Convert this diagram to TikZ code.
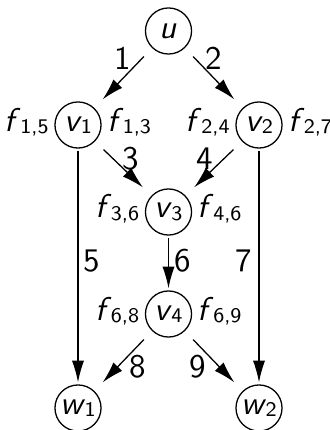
\documentclass[tikz,border=0pt]{standalone}
\usetikzlibrary{arrows.meta}
% sans oblique letter, optionally with a small upright sans subscript
\newcommand{\sv}[1]{\textsf{\textit{#1}}}
\newcommand{\svs}[2]{\textsf{\textit{#1}}\kern-0.3pt\raisebox{-0.7pt}{\fontsize{6.5}{7.5}\selectfont\sffamily #2}}
\begin{document}
\begin{tikzpicture}[x=0.3125pt, y=-0.3125pt,
  font=\fontsize{10.3}{12.5}\selectfont\sffamily,
  vtx/.style={rectangle, minimum size=15.6pt, inner sep=0pt,
    path picture={\draw (path picture bounding box.center) circle[radius=7.2pt];}},
  flowl/.style={anchor=base east, inner sep=1pt},
  flowr/.style={anchor=base west, inner sep=1pt},
  arc/.style={-{Latex[length=6.8pt,width=3.8pt]}},
  elabel/.style={midway, inner sep=0pt}]
  \useasboundingbox (0,0) rectangle (329,430);

  % vertices
  \node[vtx] (u)  at (168.5, 31)  {\sv{u}};
  \node[vtx] (v1) at (78, 125)    {\svs{v}{1}};
  \node[vtx] (v2) at (259, 125)   {\svs{v}{2}};
  \node[vtx] (v3) at (168.5, 212) {\svs{v}{3}};
  \node[vtx] (v4) at (168.5, 314) {\svs{v}{4}};
  \node[vtx] (w1) at (78, 408)    {\svs{w}{1}};
  \node[vtx] (w2) at (259, 408)   {\svs{w}{2}};

  % flow variables beside the vertices
  \node[flowl] (f15) at (v1.base west) {\svs{f}{1,5}};
  \node[flowr] (f13) at (v1.base east) {\svs{f}{1,3}};
  \node[flowl] (f24) at (v2.base west) {\svs{f}{2,4}};
  \node[flowr] (f27) at (v2.base east) {\svs{f}{2,7}};
  \node[flowl] (f36) at (v3.base west) {\svs{f}{3,6}};
  \node[flowr] (f46) at (v3.base east) {\svs{f}{4,6}};
  \node[flowl] (f68) at (v4.base west) {\svs{f}{6,8}};
  \node[flowr] (f69) at (v4.base east) {\svs{f}{6,9}};

  % numbered arcs
  \draw[arc] (u)  -- node[elabel, shift={(-1,-20)}] (e1) {1} (v1);
  \draw[arc] (u)  -- node[elabel, shift={(0,-20)}]  (e2) {2} (v2);
  \draw[arc] (v1) -- node[elabel, shift={(7.5,-9.5)}] (e3) {3} (v3);
  \draw[arc] (v2) -- node[elabel, shift={(-9,-9.5)}] (e4) {4} (v3);
  \draw[arc] (v1) -- node[elabel, shift={(14,-5.5)}] (e5) {5} (w1);
  \draw[arc] (v3) -- node[elabel, shift={(14,-2)}]   (e6) {6} (v4);
  \draw[arc] (v2) -- node[elabel, shift={(-15,-5.5)}] (e7) {7} (w2);
  \draw[arc] (v4) -- node[elabel, shift={(14.5,6)}]  (e8) {8} (w1);
  \draw[arc] (v4) -- node[elabel, shift={(-16,6)}]   (e9) {9} (w2);
\end{tikzpicture}
\end{document}
